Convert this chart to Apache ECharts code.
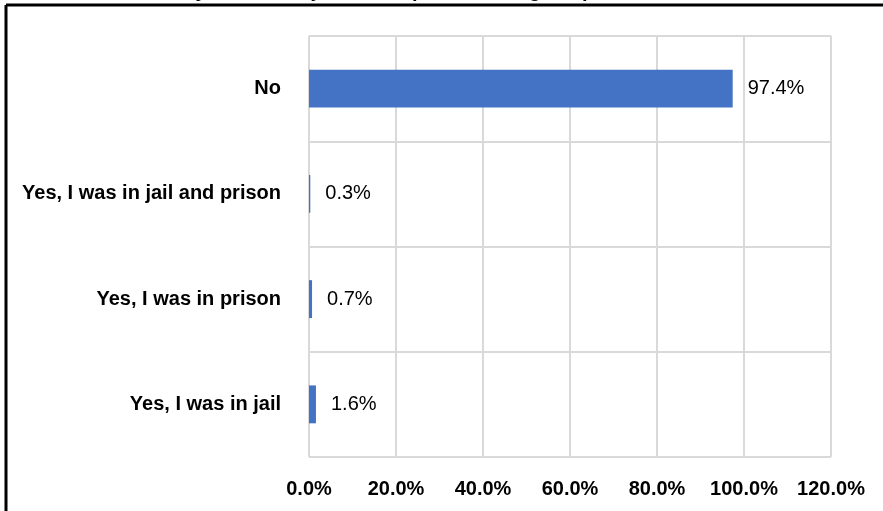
<!DOCTYPE html>
<html>
<head>
<meta charset="utf-8">
<script src="https://cdn.jsdelivr.net/npm/echarts@6/dist/echarts.min.js"></script>
<style>
html,body{margin:0;padding:0;background:#fff;}
#chart{width:883px;height:511px;}
</style>
</head>
<body>
<div id="chart"></div>
<script>
const titleText = "Have you been in jail and/or prison during the past 12 months?";
const categories = ["Yes, I was in jail", "Yes, I was in prison", "Yes, I was in jail and prison", "No"];
const values = [1.6, 0.7, 0.3, 97.4];
const axisMin = 0, axisMax = 120, axisStep = 20;

const fontFam = "'Liberation Sans Narrow', 'Arial Narrow', 'Liberation Sans', Arial, sans-serif";
const chart = echarts.init(document.getElementById('chart'));
chart.setOption({
  animation: false,
  backgroundColor: '#fff',
  title: {
    text: titleText,
    left: 'center',
    top: -24,
    textStyle: {fontFamily: fontFam, fontWeight: 'bold', fontSize: 20, color: '#000'}
  },
  graphic: [
    {type: 'line', shape: {x1: 6, y1: 5, x2: 883, y2: 5}, style: {stroke: '#000', lineWidth: 3}},
    {type: 'line', shape: {x1: 6, y1: 5, x2: 6, y2: 511}, style: {stroke: '#000', lineWidth: 3}}
  ],
  grid: {left: 309, right: 52, top: 36, bottom: 54, containLabel: false},
  xAxis: {
    type: 'value',
    min: axisMin, max: axisMax, interval: axisStep,
    axisLine: {show: false},
    axisTick: {show: false},
    splitLine: {show: true, lineStyle: {color: '#d9d9d9', width: 2}},
    axisLabel: {
      formatter: v => v.toFixed(1) + '%',
      fontFamily: fontFam, fontWeight: 'bold', fontSize: 20, color: '#000', margin: 22
    }
  },
  yAxis: {
    type: 'category',
    data: categories,
    axisLine: {show: false},
    axisTick: {show: false},
    splitLine: {show: true, lineStyle: {color: '#d9d9d9', width: 2}},
    axisLabel: {fontFamily: fontFam, fontWeight: 'bold', fontSize: 20, color: '#000', margin: 28}
  },
  series: [{
    type: 'bar',
    data: values,
    barWidth: '36%',
    itemStyle: {color: '#4472C4'},
    label: {
      show: true, position: 'right', distance: 15,
      formatter: p => p.value.toFixed(1) + '%',
      fontFamily: fontFam, fontSize: 20, color: '#000'
    }
  }]
});
</script>
</body>
</html>
